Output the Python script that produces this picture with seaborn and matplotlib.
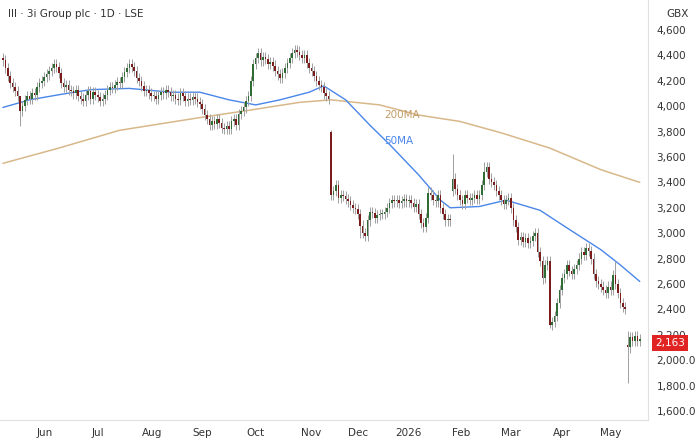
import numpy as np
import pandas as pd
import matplotlib
matplotlib.use("Agg")
import matplotlib.pyplot as plt
import seaborn as sns

closes = [4360,4300,4240,4180,4150,4120,4080,3960,4000,4050,
 4080,4060,4100,4090,4150,4180,4200,4230,4250,4280,
 4300,4330,4310,4260,4180,4150,4170,4130,4120,4100,
 4130,4080,4060,4040,4090,4120,4060,4110,4090,4070,
 4040,4060,4090,4130,4150,4140,4170,4190,4180,4230,
 4270,4300,4330,4310,4280,4220,4200,4160,4120,4130,
 4100,4080,4080,4060,4090,4110,4100,4130,4110,4080,
 4090,4060,4050,4100,4080,4040,4060,4050,4070,4060,
 4030,4020,3980,3930,3900,3850,3880,3860,3900,3870,
 3830,3820,3840,3820,3880,3900,3850,3940,3960,3990,
 4040,4080,4200,4330,4380,4420,4360,4390,4370,4330,
 4350,4320,4280,4250,4220,4260,4300,4340,4380,4420,
 4440,4430,4400,4380,4400,4340,4300,4280,4240,4200,
 4170,4150,4100,4080,4060,
 3300,3330,3380,3280,3300,
 3290,3270,3250,3220,3200,3190,3150,3060,3000,2980,
 3100,3170,3160,3120,3140,3150,3150,3170,3200,3240,
 3260,3250,3260,3240,3250,3270,3250,3260,3240,3210,
 3230,3150,3080,3050,3120,3320,3300,3260,3250,3300,
 3200,3150,3100,3110,3100,3430,3350,3300,3260,3230,
 3300,3280,3260,3280,3300,3270,3300,3380,3480,3520,
 3430,3400,3380,3330,3300,3260,3230,3260,3280,3200,
 3100,3050,2950,2970,2930,2960,2920,2940,2980,3000,
 2850,2780,2650,2750,2780,2280,2300,2350,2450,2550,
 2650,2680,2750,2700,2680,2720,2750,2800,2850,2830,
 2880,2860,2800,2680,2620,2600,2580,2550,2530,2580,
 2550,2670,2600,2530,2450,2420,2400,2100,2180,2150,
 2190,2150,2163]
# explicit opens for the gap days (others open at prior close)
gap_opens = {135: 3800, 185: 3330, 225: 2780, 257: 2120}
spikes_high = {135: 3810, 185: 3620, 198: 3560, 257: 2230, 7: 4060, 252: 2780}
spikes_low = {7: 3840, 257: 1820, 225: 2250, 147: 2960, 222: 2600}

ma50_day = [0,11,23,36,52,69,81,93,104,114,126,132,141,151,159,171,180,184,196,207,221,233,246,254,262]
ma50_val = [3990,4050,4090,4130,4140,4110,4110,4050,4010,4050,4110,4160,4050,3850,3700,3460,3260,3200,3210,3260,3180,3030,2870,2750,2620]
ma200_day = [0,23,48,81,102,122,135,155,171,188,205,225,246,262]
ma200_val = [3550,3670,3810,3910,3970,4030,4050,4010,3930,3880,3790,3670,3500,3400]

tick_days = [17,39,61.5,82,104,127,146,167,188.5,209,230,250]
tick_labels = ["Jun","Jul","Aug","Sep","Oct","Nov","Dec","2026","Feb","Mar","Apr","May"]
y_ticks = [1600,1800,2000,2200,2400,2600,2800,3000,3200,3400,3600,3800,4000,4200,4400,4600]
y_labels = ["1,600.0","1,800.0","2,000.0","2,200","2,400","2,600","2,800","3,000","3,200","3,400","3,600","3,800","4,000","4,200","4,400","4,600"]

sns.set_style("white")
plt.rcParams['font.family'] = ['DejaVu Sans']
fig = plt.figure(figsize=(7, 4.41), dpi=100)
ax = fig.add_axes([0, 21/441, 648/700, 420/441])

n = len(closes)
days = np.arange(n)
opens = [closes[0] + 20] + closes[:-1]
for k, v in gap_opens.items():
    opens[k] = v
highs = [max(o, c) + 40 for o, c in zip(opens, closes)]
lows = [min(o, c) - 40 for o, c in zip(opens, closes)]
for k, v in spikes_high.items():
    highs[k] = v
for k, v in spikes_low.items():
    lows[k] = v

up = "#2f6b34"
dn = "#7b1c1c"
cols = [up if c >= o else dn for o, c in zip(opens, closes)]
ax.vlines(days, lows, highs, color="#a0a0a0", lw=0.7, zorder=2)
bottoms = [min(o, c) for o, c in zip(opens, closes)]
heights = [max(abs(c - o), 8) for o, c in zip(opens, closes)]
ax.bar(days, heights, bottom=bottoms, width=0.65, color=cols, zorder=3, linewidth=0)

df50 = pd.DataFrame({"day": ma50_day, "v": ma50_val})
df200 = pd.DataFrame({"day": ma200_day, "v": ma200_val})
sns.lineplot(data=df200, x="day", y="v", ax=ax, color="#d8b88a", lw=1.1, zorder=1)
sns.lineplot(data=df50, x="day", y="v", ax=ax, color="#4a86e8", lw=1.0, zorder=1)

ax.text(157, 3905, "200MA", color="#c09a64", fontsize=7.5)
ax.text(157, 3700, "50MA", color="#4a86e8", fontsize=7.5)

ax.set_xlim(-1.2, 265.4)
ax.set_ylim(1529, 4836)
ax.set_xticks(tick_days)
ax.set_xticklabels(tick_labels, fontsize=7.5, color="#333333")
ax.set_yticks(y_ticks)
ax.set_yticklabels(y_labels, fontsize=7.5, color="#333333")
ax.yaxis.tick_right()
ax.tick_params(length=0, pad=6)
ax.set_xlabel(""); ax.set_ylabel("")
for s in ax.spines.values():
    s.set_color("#e0e0e0")
ax.spines["left"].set_visible(False)
ax.spines["top"].set_visible(False)

fig.text(8/700, 1 - 14/441, "III · 3i Group plc · 1D · LSE", fontsize=7.5, color="#333333", va="center")
fig.text(666/700, 1 - 14/441, "GBX", fontsize=7.5, color="#333333", va="center")
fig.text(670/700, 1 - 343/441, "2,163", fontsize=7.5, color="white", va="center", ha="center",
         bbox=dict(boxstyle="square,pad=0.3", fc="#e02424", ec="none"))

fig.savefig("out.png", dpi=100)
